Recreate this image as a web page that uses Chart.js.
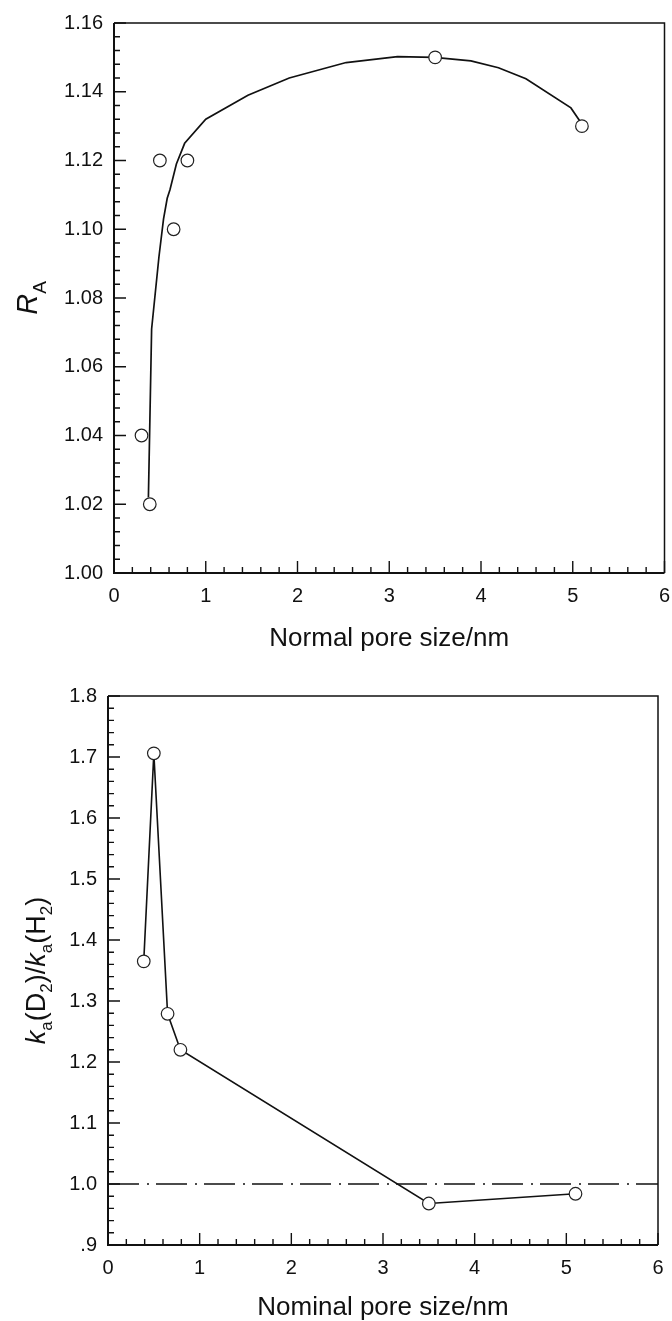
<!DOCTYPE html>
<html>
<head>
<meta charset="utf-8">
<script src="https://cdn.jsdelivr.net/npm/chart.js@4.4.0/dist/chart.umd.min.js"></script>
<style>
  html, body { margin: 0; padding: 0; background: #fff; }
  body { width: 672px; height: 1321px; position: relative; overflow: hidden; }
  canvas { position: absolute; left: 0; }
  #chartA { top: 0; }
  #chartB { top: 660px; }
</style>
</head>
<body>
<canvas id="chartA" width="672" height="660"></canvas>
<canvas id="chartB" width="672" height="661"></canvas>
<script>
// Panel 1 - R_A vs pore size
const poreSizeA = [0.30, 0.39, 0.50, 0.65, 0.80, 3.50, 5.10];
const ratioA    = [1.040, 1.020, 1.120, 1.100, 1.120, 1.150, 1.130];
// fitted curve
const fitX = [0.375, 0.41, 0.49, 0.54, 0.58, 0.61, 0.68, 0.77, 1.00, 1.46, 1.91, 2.53, 3.09, 3.49, 3.89, 4.19, 4.49, 4.98, 5.09];
const fitY = [1.022, 1.071, 1.092, 1.103, 1.109, 1.1115, 1.119, 1.125, 1.132, 1.139, 1.144, 1.1485, 1.1502, 1.150, 1.149, 1.147, 1.1438, 1.1353, 1.131];

// Panel 2 - ka(D2)/ka(H2) vs pore size
const poreSizeB = [0.39, 0.50, 0.65, 0.79, 3.50, 5.10];
const ratioB    = [1.365, 1.706, 1.279, 1.220, 0.968, 0.984];
const refX = [0, 6];
const refY = [1.0, 1.0];

// axis titles
const xTitleA = 'Normal pore size/nm';
const xTitleB = 'Nominal pore size/nm';
const yTitleA = [{t: 'R', i: true}, {t: 'A', sub: true}];
const yTitleB = [{t: 'k', i: true}, {t: 'a', sub: true}, {t: '(D'}, {t: '2', sub: true}, {t: ')/'},
                 {t: 'k', i: true}, {t: 'a', sub: true}, {t: '(H'}, {t: '2', sub: true}, {t: ')'}];

const FONT = '"Liberation Sans", Arial, Helvetica, sans-serif';
const INK = '#111';

function toPoints(xs, ys) {
    return xs.map((x, i) => ({x: x, y: ys[i]}));
}

// frame + inward ticks (major and minor) from the scales
const innerTicks = {
    id: 'innerTicks',
    beforeDatasetsDraw(chart, args, opts) {
        const ctx = chart.ctx;
        const a = chart.chartArea;
        ctx.save();
        ctx.strokeStyle = INK;
        // top and right: thinner
        ctx.lineWidth = 1.5;
        ctx.beginPath();
        ctx.moveTo(a.left, a.top); ctx.lineTo(a.right, a.top); ctx.lineTo(a.right, a.bottom);
        ctx.stroke();
        // axes: a little heavier
        ctx.lineWidth = 2;
        ctx.beginPath();
        ctx.moveTo(a.left, a.top); ctx.lineTo(a.left, a.bottom); ctx.lineTo(a.right, a.bottom);
        ctx.stroke();
        ctx.lineWidth = 1.4;
        ['x', 'y'].forEach(id => {
            const scale = chart.scales[id];
            const vals = scale.ticks.map(t => t.value);
            const minor = opts.minor;
            ctx.beginPath();
            vals.forEach((v, k) => {
                const p = scale.getPixelForValue(v);
                if (id === 'x') {
                    ctx.moveTo(p, a.bottom); ctx.lineTo(p, a.bottom - opts.majorLen);
                } else {
                    ctx.moveTo(a.left, p); ctx.lineTo(a.left + opts.majorLen, p);
                }
                if (k < vals.length - 1) {
                    const step = (vals[k + 1] - v) / (minor + 1);
                    for (let m = 1; m <= minor; m++) {
                        const q = scale.getPixelForValue(v + m * step);
                        if (id === 'x') {
                            ctx.moveTo(q, a.bottom); ctx.lineTo(q, a.bottom - opts.minorLen);
                        } else {
                            ctx.moveTo(a.left, q); ctx.lineTo(a.left + opts.minorLen, q);
                        }
                    }
                }
            });
            ctx.stroke();
        });
        ctx.restore();
    }
};

// rotated y title with italics and subscripts
const richYTitle = {
    id: 'richYTitle',
    afterDraw(chart, args, opts) {
        const ctx = chart.ctx;
        const a = chart.chartArea;
        const size = opts.size, subSize = Math.round(opts.size * 0.64);
        const fontOf = p => (p.i ? 'italic ' : '') + (p.sub ? subSize : size) + 'px ' + FONT;
        ctx.save();
        let total = 0;
        opts.parts.forEach(p => { ctx.font = fontOf(p); total += ctx.measureText(p.t).width; });
        ctx.translate(opts.x, (a.top + a.bottom) / 2);
        ctx.rotate(-Math.PI / 2);
        ctx.fillStyle = INK;
        ctx.textBaseline = 'alphabetic';
        let x = -total / 2;
        const base = size * 0.36;
        opts.parts.forEach(p => {
            ctx.font = fontOf(p);
            ctx.fillText(p.t, x, base + (p.sub ? size * 0.28 : 0));
            x += ctx.measureText(p.t).width;
        });
        ctx.restore();
    }
};

function makeChart(canvasId, cfg) {
    const canvas = document.getElementById(canvasId);
    return new Chart(canvas.getContext('2d'), {
        type: 'scatter',
        data: { datasets: cfg.datasets },
        options: {
            responsive: false,
            animation: false,
            devicePixelRatio: 1,
            layout: { padding: cfg.padding },
            plugins: {
                legend: { display: false },
                tooltip: { enabled: false },
                innerTicks: { minor: 4, majorLen: 12, minorLen: 6 },
                richYTitle: { parts: cfg.yTitle, size: cfg.yTitleSize, x: cfg.yTitleX }
            },
            scales: {
                x: {
                    type: 'linear',
                    min: 0, max: 6,
                    grid: { display: false, drawTicks: false },
                    border: { display: false },
                    ticks: {
                        stepSize: 1,
                        padding: 11,
                        color: INK,
                        font: { family: FONT, size: 20 },
                        maxRotation: 0
                    },
                    title: {
                        display: true,
                        text: cfg.xTitle,
                        color: INK,
                        font: { family: FONT, size: 26, lineHeight: 1 },
                        padding: { top: 0, bottom: cfg.xTitlePad }
                    },
                    afterFit: s => {
                        s.height = cfg.xHeight;
                        s.paddingLeft = 0;
                        s.paddingRight = 0;
                    }
                },
                y: {
                    type: 'linear',
                    min: cfg.yMin, max: cfg.yMax,
                    grid: { display: false, drawTicks: false },
                    border: { display: false },
                    ticks: {
                        stepSize: cfg.yStep,
                        padding: 11,
                        color: INK,
                        font: { family: FONT, size: 20 },
                        callback: cfg.yFormat
                    },
                    afterFit: s => {
                        s.width = cfg.yWidth;
                        s.paddingTop = 0;
                        s.paddingBottom = 0;
                    }
                }
            }
        },
        plugins: [innerTicks, richYTitle]
    });
}

const circleStyle = {
    pointStyle: 'circle',
    pointRadius: 6.3,
    pointBackgroundColor: '#fff',
    pointBorderColor: '#222',
    pointBorderWidth: 1.2
};

makeChart('chartA', {
    padding: { top: 23, right: 6, left: 0, bottom: 0 },
    xHeight: 87, yWidth: 114,
    xTitle: xTitleA, xTitlePad: 8,
    yTitle: yTitleA, yTitleSize: 29, yTitleX: 27,
    yMin: 1.0, yMax: 1.16, yStep: 0.02,
    yFormat: v => v.toFixed(2),
    datasets: [
        {
            data: toPoints(fitX, fitY),
            showLine: true,
            borderColor: INK,
            borderWidth: 1.7,
            pointRadius: 0,
            order: 2
        },
        Object.assign({ data: toPoints(poreSizeA, ratioA), showLine: false, order: 1 }, circleStyle)
    ]
});

makeChart('chartB', {
    padding: { top: 36, right: 14, left: 0, bottom: 0 },
    xHeight: 76, yWidth: 108,
    xTitle: xTitleB, xTitlePad: 0,
    yTitle: yTitleB, yTitleSize: 27, yTitleX: 35,
    yMin: 0.9, yMax: 1.8, yStep: 0.1,
    yFormat: v => v.toFixed(1).replace(/^0/, ''),
    datasets: [
        {
            data: toPoints(refX, refY),
            showLine: true,
            borderColor: INK,
            borderWidth: 1.5,
            borderDash: [31, 8, 2, 7],
            pointRadius: 0,
            order: 3
        },
        Object.assign({
            data: toPoints(poreSizeB, ratioB),
            showLine: true,
            borderColor: INK,
            borderWidth: 1.6,
            order: 1
        }, circleStyle)
    ]
});
</script>
</body>
</html>
